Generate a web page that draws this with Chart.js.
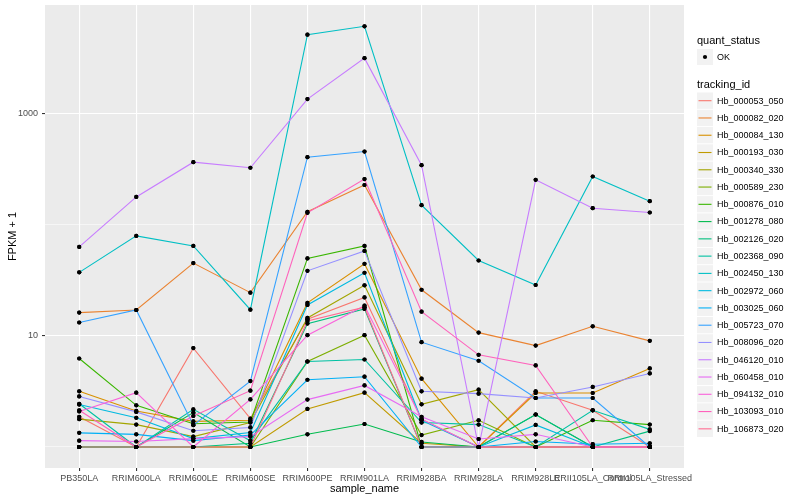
<!DOCTYPE html>
<html>
<head>
<meta charset="utf-8">
<script src="https://cdn.jsdelivr.net/npm/chart.js@4.4.1/dist/chart.umd.min.js"></script>
<style>
  html, body { margin: 0; padding: 0; background: #fff; }
  #wrap { width: 800px; height: 500px; }
</style>
</head>
<body>
<div id="wrap"><canvas id="chart"></canvas></div>
<script>
// samples on the x axis
const samples = ["PB350LA", "RRIM600LA", "RRIM600LE", "RRIM600SE", "RRIM600PE", "RRIM901LA",
                 "RRIM928BA", "RRIM928LA", "RRIM928LE", "RRII105LA_Control", "RRII105LA_Stressed"];

const trackingIds = ["Hb_000053_050", "Hb_000082_020", "Hb_000084_130", "Hb_000193_030", "Hb_000340_330",
                     "Hb_000589_230", "Hb_000876_010", "Hb_001278_080", "Hb_002126_020", "Hb_002368_090",
                     "Hb_002450_130", "Hb_002972_060", "Hb_003025_060", "Hb_005723_070", "Hb_008096_020",
                     "Hb_046120_010", "Hb_060458_010", "Hb_094132_010", "Hb_103093_010", "Hb_106873_020"];

// ggplot default hue palette, 20 levels
const hueColors = ["#F8766D", "#EA8331", "#D89000", "#C09B00", "#A3A500", "#7CAE00", "#39B600", "#00BB4E",
                   "#00BF7D", "#00C1A3", "#00BFC4", "#00BAE0", "#00B0F6", "#35A2FF", "#9590FF", "#C77CFF",
                   "#E76BF3", "#FA62DB", "#FF62BC", "#FF6C91"];

// FPKM + 1, one value per sample
const hb000053 = [1.87, 1, 7.76, 1.80, 14.1, 22.2, 1.78, 1, 3.17, 2.14, 1];
const hb000082 = [16.2, 17.1, 45.2, 24.5, 131, 228, 26.0, 10.7, 8.18, 12.2, 9.02];
const hb000084 = [3.17, 2.11, 1.70, 1.74, 19.8, 44.5, 4.12, 1, 3.06, 3.06, 5.09];
const hb000193 = [1, 1, 1, 1, 2.20, 3.08, 1.08, 1, 1, 1, 1];
const hb000340 = [1.78, 1.59, 1.24, 1.66, 14.5, 28.5, 2.42, 3.28, 1, 1, 1];
const hb000589 = [1, 1, 1, 1, 5.88, 10.15, 1.28, 1.74, 1, 1, 1];
const hb000876 = [6.26, 2.37, 1.62, 1.68, 49.8, 64.5, 1, 1, 1, 1.74, 1.59];
const hb001278 = [1, 1, 2.04, 1, 1.30, 1.61, 1.11, 1, 1.96, 1, 1];
const hb002126 = [1, 1, 1, 1.08, 12.9, 17.5, 1, 1, 1.96, 1, 1.39];
const hb002368 = [2.45, 1, 2.18, 1.14, 5.88, 6.13, 1.66, 1.59, 1, 2.14, 1.44];
const hb002450 = [37.3, 79.4, 64.5, 17.2, 5143, 6115, 150, 47.7, 28.7, 272, 163];
const hb002972 = [2.41, 1.83, 1.19, 1.35, 19.0, 37.0, 1.74, 1, 1.58, 1, 1];
const hb003025 = [1.34, 1.30, 1.14, 1.28, 4.03, 4.29, 1, 1, 1.12, 1.06, 1.08];
const hb005723 = [13.2, 17.1, 1.57, 3.92, 406, 456, 8.78, 5.97, 2.76, 2.76, 1];
const hb008096 = [2.85, 2.07, 1.40, 1.50, 38.5, 58.2, 3.17, 3.02, 2.76, 3.47, 4.59];
const hb046120 = [63.2, 178, 366, 326, 1354, 3159, 344, 1, 254, 141, 129];
const hb060458 = [1.14, 1.12, 1.19, 1.24, 2.67, 3.58, 1.87, 1.18, 1.30, 1, 1];
const hb094132 = [2.09, 3.08, 1, 2.68, 10.15, 18.7, 1.78, 1, 1, 1, 1];
const hb103093 = [2.14, 1, 1.90, 3.21, 128, 258, 16.5, 6.75, 5.42, 1, 1];
const hb106873 = [1, 1, 1, 1, 13.6, 18.1, 1, 1, 1, 1, 1];

const seriesValues = [hb000053, hb000082, hb000084, hb000193, hb000340, hb000589, hb000876, hb001278,
                      hb002126, hb002368, hb002450, hb002972, hb003025, hb005723, hb008096, hb046120,
                      hb060458, hb094132, hb103093, hb106873];

// y axis breaks (log10 scale): majors get labels, minors only a thin grid line
const yBreaks = [1, 10, 100, 1000];
const yLabelled = [10, 1000];

const FONT = "'Liberation Sans', Arial, Helvetica, sans-serif";
Chart.defaults.font.family = FONT;

const datasets = seriesValues.map((vals, i) => ({
    label: trackingIds[i],
    data: vals.map((v, j) => ({ x: j, y: v })),
    borderColor: hueColors[i],
    backgroundColor: hueColors[i],
    borderWidth: 1.1,
    pointRadius: 2.1,
    pointBackgroundColor: '#000',
    pointBorderWidth: 0,
    tension: 0,
    order: seriesValues.length - i   // later series drawn on top, like ggplot
}));

// grey panel behind everything
const panelBg = {
    id: 'panelBg',
    beforeDraw(chart) {
        const { ctx, chartArea: a } = chart;
        ctx.save();
        ctx.fillStyle = '#fff';
        ctx.fillRect(0, 0, chart.width, chart.height);
        ctx.fillStyle = '#EBEBEB';
        ctx.fillRect(a.left, a.top, a.right - a.left, a.bottom - a.top);
        ctx.restore();
    }
};

// points are a separate layer on top of all lines
const pointsOnTop = {
    id: 'pointsOnTop',
    afterDatasetsDraw(chart) {
        const ctx = chart.ctx;
        chart.data.datasets.forEach((ds, i) => {
            chart.getDatasetMeta(i).data.forEach(pt => pt.draw(ctx));
        });
    }
};

const ggLegend = {
    id: 'ggLegend',
    afterDraw(chart) {
        const ctx = chart.ctx;
        const x0 = 697, key = 17;
        ctx.save();
        ctx.textBaseline = 'middle';
        ctx.textAlign = 'left';

        ctx.fillStyle = '#000';
        ctx.font = "11px " + FONT;
        ctx.fillText('quant_status', x0, 41);
        ctx.fillStyle = '#F2F2F2';
        ctx.fillRect(x0, 49, key - 1, key - 1);
        ctx.fillStyle = '#000';
        ctx.beginPath();
        ctx.arc(x0 + 8, 57, 2.1, 0, Math.PI * 2);
        ctx.fill();
        ctx.font = "9px " + FONT;
        ctx.fillText('OK', x0 + 20, 57.5);

        ctx.font = "11px " + FONT;
        ctx.fillText('tracking_id', x0, 84.5);
        const top = 92.5;
        chart.data.datasets.forEach((ds, i) => {
            const y = top + i * 17.27;
            ctx.fillStyle = '#F2F2F2';
            ctx.fillRect(x0, y, key - 1, 16.3);
            ctx.strokeStyle = ds.borderColor;
            ctx.lineWidth = 1.1;
            ctx.beginPath();
            ctx.moveTo(x0 + 1.5, y + 8.2);
            ctx.lineTo(x0 + 14.5, y + 8.2);
            ctx.stroke();
            ctx.fillStyle = '#000';
            ctx.font = "9px " + FONT;
            ctx.fillText(ds.label, x0 + 20, y + 8.6);
        });
        ctx.restore();
    }
};

new Chart(document.getElementById('chart'), {
    type: 'line',
    data: { datasets },
    plugins: [panelBg, pointsOnTop, ggLegend],
    options: {
        responsive: true,
        maintainAspectRatio: false,
        animation: false,
        layout: { padding: { left: 0, top: 5, right: 116, bottom: 0 } },
        plugins: {
            legend: { display: false },
            tooltip: { enabled: false }
        },
        scales: {
            x: {
                type: 'linear',
                bounds: 'data',
                min: -0.6,
                max: 10.6,
                afterBuildTicks: s => { s.ticks = samples.map((c, i) => ({ value: i })); },
                afterFit: s => { s.height = 32; s.paddingLeft = 0; s.paddingRight = 0; },
                border: { display: false },
                grid: { color: '#FFFFFF', lineWidth: 1.1, tickColor: '#333333', tickLength: 3 },
                ticks: {
                    autoSkip: false, maxRotation: 0, minRotation: 0,
                    padding: 2,
                    color: '#4D4D4D',
                    font: { size: 9 },
                    callback: v => samples[v]
                },
                title: {
                    display: true, text: 'sample_name', color: '#000',
                    font: { size: 11 }, padding: { top: 0, bottom: 4 }
                }
            },
            y: {
                type: 'logarithmic',
                bounds: 'data',
                min: 0.647,
                max: 9506,
                afterBuildTicks: s => { s.ticks = yBreaks.map(v => ({ value: v })); },
                afterFit: s => { s.width = 45; s.paddingTop = 0; s.paddingBottom = 0; },
                border: { display: false },
                grid: {
                    color: '#FFFFFF',
                    lineWidth: c => yLabelled.includes(c.tick && c.tick.value) ? 1.1 : 0.55,
                    tickColor: c => yLabelled.includes(c.tick && c.tick.value) ? '#333333' : 'rgba(0,0,0,0)',
                    tickLength: 3
                },
                ticks: {
                    padding: 4,
                    color: '#4D4D4D',
                    font: { size: 9 },
                    callback: v => yLabelled.includes(v) ? String(v) : ''
                },
                title: {
                    display: true, text: 'FPKM + 1', color: '#000',
                    font: { size: 11 }, padding: { top: 6, bottom: 0 }
                }
            }
        }
    }
});
</script>
</body>
</html>
